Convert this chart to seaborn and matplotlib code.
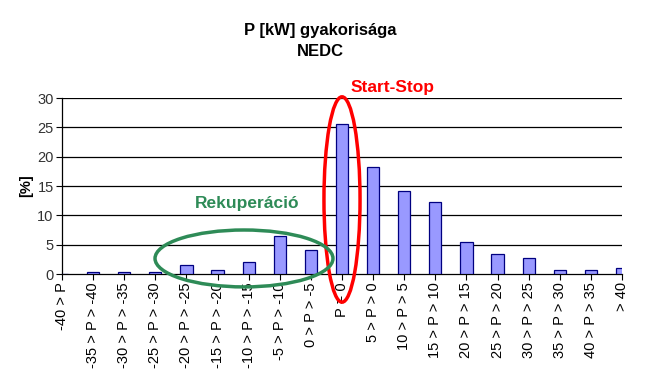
import matplotlib
matplotlib.use("Agg")
import matplotlib.pyplot as plt
import seaborn as sns
import pandas as pd
from matplotlib.patches import Ellipse

categories = ["-40 > P", "-35 > P > -40", "-30 > P > -35", "-25 > P > -30",
              "-20 > P > -25", "-15 > P > -20", "-10 > P > -15", "-5 > P > -10",
              "0 > P > -5", "P = 0", "5 > P > 0", "10 > P > 5", "15 > P > 10",
              "20 > P > 15", "25 > P > 20", "30 > P > 25", "35 > P > 30",
              "40 > P > 35", "> 40"]
values = [0.0, 0.3, 0.3, 0.3, 1.6, 0.6, 2.1, 6.5, 4.1, 25.6, 18.3, 14.2, 12.2,
          5.4, 3.4, 2.7, 0.7, 0.6, 1.1]
yticks = [0, 5, 10, 15, 20, 25, 30]

sns.set_theme(style="white")
plt.rcParams['font.family'] = ['Liberation Sans', 'DejaVu Sans']
plt.rcParams['text.color'] = 'black'

df = pd.DataFrame({"cat": categories, "val": values})

fig = plt.figure(figsize=(6.57, 3.86), dpi=100)
ax = fig.add_axes([62/657, 1-274/386, (622-62)/657, (274-98)/386])

sns.barplot(data=df, x="cat", y="val", ax=ax, color="#9999FF", width=0.39,
            edgecolor="#000080", linewidth=0.9, saturation=1, zorder=3)

ax.set_xlim(0, 18)
ax.set_ylim(0, 30)
ax.set_yticks(yticks)
ax.set_yticklabels([str(v) for v in yticks], fontsize=10.5, color="#333333")
ax.set_xticks(range(len(categories)))
ax.set_xticklabels(categories, rotation=90, fontsize=10.5, color="black")
ax.tick_params(axis="x", length=4, width=0.8, color="black", direction="out", bottom=True, pad=2)
ax.tick_params(axis="y", length=4, width=0.8, color="black", direction="out", left=True, pad=2)
for g in yticks[1:]:
    ax.axhline(g, color="black", lw=0.9, zorder=1)
for s in ["top", "right"]:
    ax.spines[s].set_visible(False)
ax.spines["left"].set_color("black")
ax.spines["bottom"].set_color("black")
ax.spines["left"].set_linewidth(0.9)
ax.spines["bottom"].set_linewidth(0.9)
ax.set_xlabel("")
ax.set_ylabel("[%]", fontsize=10.5, fontweight="bold", labelpad=3, color="black")

fig.text(320/657, 1-30/386, "P [kW] gyakorisága", ha="center", va="center",
         fontsize=12, fontweight="bold", color="black")
fig.text(320/657, 1-51/386, "NEDC", ha="center", va="center",
         fontsize=12, fontweight="bold", color="black")

ax.add_patch(Ellipse((9.0, 12.7), 1.16, 35.0, fill=False, edgecolor="#FF0000",
                     lw=2.5, clip_on=False, zorder=5))
ax.add_patch(Ellipse((5.85, 2.65), 5.72, 9.7, fill=False, edgecolor="#2E8B57",
                     lw=2.5, clip_on=False, zorder=5))
ax.text(5.95, 12.1, "Rekuperáció", color="#2E8B57", fontsize=12.5,
        fontweight="bold", ha="center", va="center")
ax.text(10.64, 31.8, "Start-Stop", color="#FF0000", fontsize=12.5,
        fontweight="bold", ha="center", va="center", clip_on=False)

fig.savefig("out.png", dpi=100)
